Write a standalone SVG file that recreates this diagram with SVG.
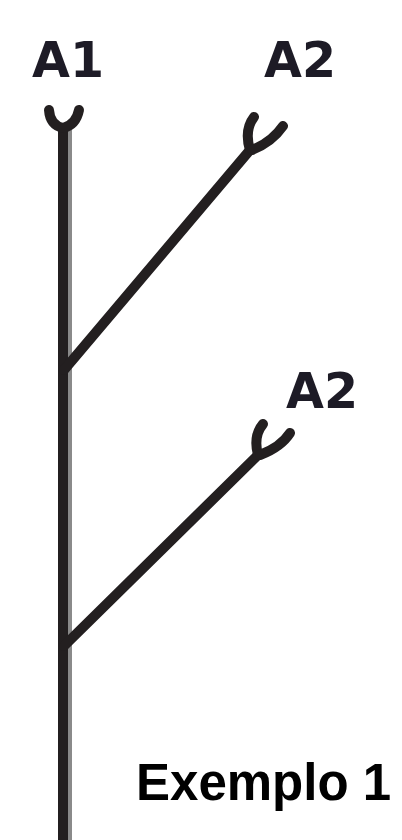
<svg xmlns="http://www.w3.org/2000/svg" width="402" height="840" viewBox="0 0 402 840">
<style>
.ln{fill:none;stroke:#231f20;stroke-width:10;stroke-linecap:round;stroke-linejoin:round}
.arm{fill:none;stroke:#231f20;stroke-width:10;stroke-linecap:round;stroke-linejoin:round}
.lbl{font-family:"DejaVu Sans",Verdana,sans-serif;font-weight:bold;font-size:49px;fill:#1d1b26}
.cap{font-family:"Liberation Sans",Arial,sans-serif;font-weight:bold;font-size:51px;fill:#000}
</style>
<rect width="402" height="840" fill="#fff"/>
<g id="connectors">
  <line x1="70" y1="130" x2="70" y2="840" stroke="#8a8a8a" stroke-width="4"/>
  <line x1="63" y1="126" x2="63" y2="840" stroke="#231f20" stroke-width="10"/>
  <path class="ln" d="M64,370 L250,150"/>
  <path class="ln" d="M64,646 L258,455"/>
</g>
<g id="A1">
  <path class="arm" d="M49,110 Q50,125 63,128 Q76,125 79,110"/>
  <text class="lbl" x="32" y="77">A1</text>
</g>
<g id="A2-top">
  <path class="arm" d="M250,150 Q244,130 254,117"/>
  <path class="arm" d="M252,150 Q272,142 283,126"/>
  <text class="lbl" x="264" y="77">A2</text>
</g>
<g id="A2-bottom">
  <path class="arm" d="M258,455 Q253,436 263,424"/>
  <path class="arm" d="M260,455 Q281,447 290,433"/>
  <text class="lbl" x="286" y="408">A2</text>
</g>
<g id="caption">
  <text class="cap" x="136" y="800">Exemplo 1</text>
</g>
</svg>
